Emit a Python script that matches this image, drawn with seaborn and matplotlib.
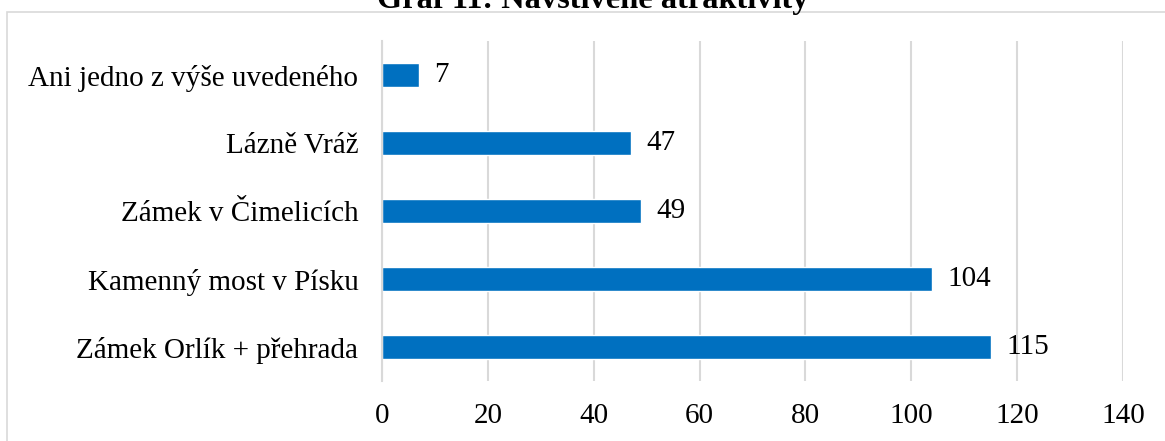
import matplotlib
matplotlib.use("Agg")
import matplotlib.pyplot as plt
from matplotlib.patches import Rectangle
import seaborn as sns
import pandas as pd

# Data
categories = [
    "Ani jedno z výše uvedeného",
    "Lázně Vráž",
    "Zámek v Čimelicích",
    "Kamenný most v Písku",
    "Zámek Orlík + přehrada",
]
values = [7, 47, 49, 104, 115]
x_ticks = [0, 20, 40, 60, 80, 100, 120, 140]
title = "Graf 11: Navštívené atraktivity"

sns.set_theme(style="white")
plt.rcParams["font.family"] = ["Liberation Serif", "DejaVu Serif"]

W, H = 1165, 441
fig = plt.figure(figsize=(W / 100, H / 100), dpi=100)
ax = fig.add_axes([382 / W, 1 - 381 / H, (1123 - 382) / W, (381 - 41) / H])

df = pd.DataFrame({"cat": categories, "val": values})
sns.barplot(data=df, x="val", y="cat", orient="h", color="#0070C0",
            saturation=1, width=0.35, ax=ax, zorder=3)

ax.set_xlim(0, 140)
ax.set_ylim(4.5, -0.5)
ax.set_xticks(x_ticks)
ax.set_xticklabels([str(t) for t in x_ticks])
ax.set_xlabel("")
ax.set_ylabel("")

grid_c = "#D9D9D9"
ax.grid(axis="x", color=grid_c, linewidth=1.5, zorder=0)
ax.grid(axis="y", visible=False)
for side in ["top", "right", "bottom"]:
    ax.spines[side].set_visible(False)
ax.spines["left"].set_color(grid_c)
ax.spines["left"].set_linewidth(1.5)
ax.spines["left"].set_zorder(4)

fs = 21
ax.tick_params(axis="x", length=0, pad=16, labelsize=fs, colors="black")
ax.tick_params(axis="y", length=0, pad=17, labelsize=fs, colors="black")

for cont in ax.containers:
    ax.bar_label(cont, labels=[str(v) for v in values], padding=11,
                 fontsize=fs, color="black")

# Chart-area frame
fig.patches.append(Rectangle((7 / W, -0.1), 1.2, 1.1 - 12 / H,
                             transform=fig.transFigure, fill=False,
                             edgecolor=grid_c, linewidth=1.2))

fig.text(593 / W, 1 - 8 / H, title, ha="center", va="baseline",
         fontsize=23.3, fontweight="bold", color="black")

fig.savefig("out.png", dpi=100)
